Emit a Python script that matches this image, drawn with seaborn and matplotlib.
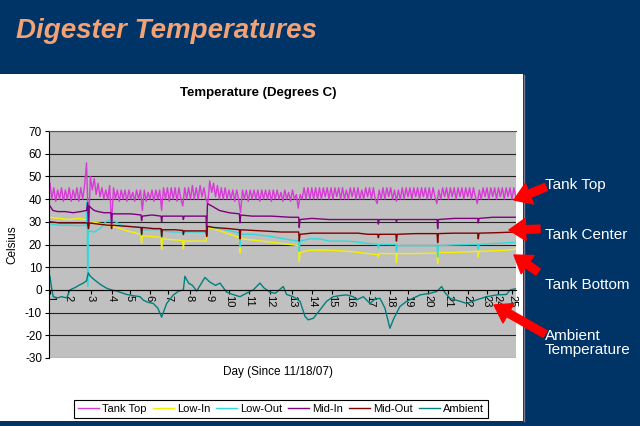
import numpy as np
import pandas as pd
import matplotlib
matplotlib.use("Agg")
import matplotlib.pyplot as plt
import seaborn as sns
from matplotlib.patches import Rectangle, FancyArrowPatch, ArrowStyle
from matplotlib.lines import Line2D

# ---------------- data ----------------
SERIES = ["Tank Top", "Low-In", "Low-Out", "Mid-In", "Mid-Out", "Ambient"]
COLORS = ["#D83AD8", "#F2F200", "#30DADA", "#800080", "#800000", "#008080"]

DAY_LABELS = ["1", "2", "3", "4", "5", "6", "7", "8", "9", "10", "11", "12", "13",
              "14", "15", "16", "17", "18", "19", "20", "21", "22", "23", "24", "25"]
DAY_TICKS = [1.0, 1.94, 3.13, 4.22, 5.16, 6.19, 7.13, 8.27, 9.31, 10.3, 11.34, 12.43, 13.57,
             14.61, 15.65, 16.58, 17.62, 18.66, 19.6, 20.64, 21.68, 22.71, 23.7, 24.27, 25.0]

# Tank Top sampled every 0.1 day starting at day 1.0
TANK_TOP_START = 1.0
TANK_TOP_STEP = 0.1
TANK_TOP = [
    47, 40, 45, 39, 44, 40, 45, 39, 44, 40,
    45, 39, 44, 40, 45, 39, 45, 40, 46, 56,
    27, 50, 44, 49, 42, 47, 41, 45, 40, 44,
    40, 46, 29, 45, 40, 44, 39, 44, 40, 44,
    39, 44, 40, 43, 39, 44, 40, 44, 35, 44,
    39, 43, 40, 44, 39, 44, 40, 44, 35, 45,
    40, 45, 39, 45, 40, 45, 39, 45, 40, 37,
    45, 40, 45, 40, 46, 40, 45, 40, 46, 41,
    45, 40, 38, 48, 43, 47, 41, 46, 40, 45,
    40, 45, 40, 44, 40, 44, 39, 44, 40, 34,
    44, 40, 44, 39, 44, 40, 44, 40, 44, 39,
    44, 40, 44, 40, 44, 39, 44, 40, 44, 40,
    43, 39, 44, 40, 43, 39, 44, 40, 42, 36,
    42, 40, 45, 40, 45, 40, 45, 40, 45, 40,
    45, 40, 45, 41, 45, 40, 45, 40, 45, 41,
    45, 40, 45, 40, 44, 40, 45, 41, 45, 40,
    45, 40, 44, 40, 45, 41, 45, 40, 45, 40,
    38, 44, 40, 45, 40, 45, 41, 45, 40, 44,
    39, 44, 40, 45, 40, 45, 41, 45, 40, 45,
    41, 45, 40, 45, 41, 45, 40, 45, 40, 45,
    41, 38, 44, 40, 45, 41, 45, 40, 45, 41,
    45, 40, 45, 41, 45, 40, 45, 41, 45, 40,
    45, 41, 38, 44, 40, 45, 41, 45, 40, 45,
    41, 45, 40, 45, 41, 45, 40, 45, 41, 45,
    40, 45, 41,
]

LOW_IN = [
    (1.0, 32), (1.5, 31.5), (2.0, 31), (2.5, 31.5), (2.9, 31), (2.96, 30.5), (3.0, 29),
    (3.1, 30), (3.5, 29.5), (4.0, 28.5), (4.5, 27.5), (5.0, 26), (5.5, 25), (5.73, 24.5),
    (5.76, 20.5), (5.8, 23.8), (6.3, 23.5), (6.77, 23.2), (6.8, 18), (6.84, 22.5), (7.5, 22),
    (7.9, 21.8), (7.93, 18), (7.97, 21.5), (8.5, 21.5), (9.11, 21.5), (9.14, 27.5), (9.5, 27),
    (10.0, 25.5), (10.84, 23), (10.87, 16.5), (10.91, 22.5), (11.5, 22), (12.5, 21), (13.0, 20.5),
    (13.92, 19.5), (13.95, 12.5), (13.99, 16.5), (14.5, 17.5), (15.5, 17.5), (16.5, 17), (17.5, 16),
    (18.03, 15.5), (18.06, 14.5), (18.1, 16), (18.97, 16), (19.0, 12), (19.04, 16), (20.0, 16),
    (21.11, 16.2), (21.14, 11.5), (21.18, 16.5), (22.0, 16.5), (23.22, 17), (23.25, 14.5),
    (23.29, 17), (24.0, 17.2), (24.7, 17.5), (25.19, 18),
]

LOW_OUT = [
    (1.0, 29), (1.5, 28.5), (2.0, 28.5), (2.5, 28.3), (2.9, 28.5), (2.93, 39), (2.96, 1.5),
    (2.99, 26), (3.3, 25.5), (3.6, 27), (3.9, 30), (4.2, 31), (4.4, 30), (4.7, 28.5), (5.2, 28),
    (5.73, 27.5), (5.76, 24), (5.8, 26.5), (6.3, 26.5), (6.77, 26.5), (6.8, 23), (6.84, 26),
    (7.4, 25.5), (7.9, 25.5), (7.93, 24), (7.97, 25.5), (8.5, 25.5), (9.11, 25.5), (9.14, 24.5),
    (9.2, 28), (9.8, 27), (10.4, 26), (10.84, 25), (10.87, 19), (10.91, 24.5), (11.5, 24.5),
    (12.5, 23.5), (13.5, 22), (13.92, 21.5), (13.95, 17), (13.99, 21.5), (14.5, 22.5), (15.0, 22.5),
    (15.5, 21.5), (16.5, 21.5), (17.5, 20.5), (18.03, 20), (18.06, 18.5), (18.1, 20), (18.97, 20),
    (19.0, 17), (19.04, 19.5), (20.0, 19.5), (21.11, 19.5), (21.14, 14.5), (21.18, 19.5),
    (22.0, 19.8), (23.22, 20), (23.25, 18), (23.29, 20), (24.2, 20.5), (25.19, 21),
]

MID_IN = [
    (1.0, 37), (1.15, 35), (1.4, 34.5), (1.8, 34.5), (2.2, 34), (2.6, 34.5), (2.9, 35),
    (2.96, 38.5), (3.0, 27), (3.04, 37), (3.15, 36), (3.3, 35), (3.5, 34.5), (3.8, 34),
    (4.17, 34), (4.2, 29), (4.23, 33.5), (4.6, 33.5), (5.2, 33.5), (5.73, 33), (5.76, 30.5),
    (5.8, 32.5), (6.3, 33), (6.77, 32.5), (6.8, 30), (6.84, 32.5), (7.4, 32.5), (7.9, 32.5),
    (7.93, 31), (7.97, 32.5), (8.5, 32.5), (9.11, 32.5), (9.14, 24), (9.18, 38), (9.4, 37),
    (9.8, 35), (10.3, 34), (10.84, 33.5), (10.87, 29.5), (10.91, 33), (11.5, 32.5), (12.5, 32.5),
    (13.5, 32), (13.92, 32), (13.95, 27.5), (13.99, 31), (14.6, 31.5), (15.5, 31), (16.5, 31),
    (17.5, 31), (18.03, 31), (18.06, 29), (18.1, 31), (18.97, 31), (19.0, 30), (19.04, 31),
    (20.0, 31), (21.11, 31), (21.14, 27), (21.18, 31), (22.0, 31.5), (23.22, 31.5), (23.25, 29.5),
    (23.29, 31.5), (24.0, 32), (25.19, 32),
]

MID_OUT = [
    (1.0, 30), (1.5, 29.5), (2.0, 29.5), (2.5, 29.5), (2.96, 29.5), (3.0, 27), (3.04, 29.5),
    (3.5, 29), (4.0, 28.5), (4.17, 28.5), (4.2, 27), (4.23, 28.5), (5.0, 28), (5.73, 27.5),
    (5.76, 24.5), (5.8, 27.5), (6.4, 27), (6.77, 27), (6.8, 23.5), (6.84, 26.5), (7.5, 26.5),
    (7.9, 26.2), (7.93, 24.5), (7.97, 26), (8.5, 26), (9.11, 26), (9.14, 23.5), (9.18, 28),
    (9.5, 27.5), (10.3, 27), (10.84, 26.5), (10.87, 22.5), (10.91, 26.5), (12.0, 26), (13.0, 25.5),
    (13.92, 25.5), (13.95, 21.5), (13.99, 24.5), (14.6, 25), (16.0, 25), (17.0, 25), (17.5, 24.5),
    (18.03, 24.5), (18.06, 23), (18.1, 24.5), (18.97, 24.5), (19.0, 21.5), (19.04, 24.5),
    (20.0, 24.8), (21.11, 24.8), (21.14, 20.8), (21.18, 24.8), (22.0, 25), (23.22, 25),
    (23.25, 22.5), (23.29, 25), (24.2, 25.2), (25.19, 25.5),
]

AMBIENT = [
    (1.0, 6), (1.1, 0), (1.17, -3), (1.4, -3.5), (1.6, -3), (1.87, -3.5), (2.04, 0), (2.3, 1),
    (2.5, 2), (2.73, 3), (2.9, 4), (2.99, 7.5), (3.1, 6), (3.3, 4.5), (3.6, 2.5), (3.95, 0.7),
    (4.2, 0), (4.46, -0.5), (4.98, -2), (5.3, -2.5), (5.68, -3), (5.85, -4.5), (6.1, -5.5),
    (6.37, -6), (6.6, -8), (6.8, -12), (7.06, -6), (7.41, -2.2), (7.7, -0.5), (7.93, 0),
    (8.01, 6), (8.2, 3), (8.4, 2), (8.62, -0.5), (8.8, 2), (9.05, 5.5), (9.3, 3.5), (9.6, 2),
    (9.83, 3), (10.18, -1), (10.5, -2), (10.87, -3), (11.2, -1.5), (11.56, 0), (11.91, 3),
    (12.1, 1), (12.43, -1), (12.7, -1.5), (13.12, 1.5), (13.29, -2), (13.64, -3), (13.99, -5),
    (14.25, -11.7), (14.42, -13.2), (14.68, -12.5), (15.03, -8.8), (15.37, -5), (15.72, -3),
    (16.06, -2.5), (16.4, -2.2), (16.76, -3), (16.93, -4.4), (17.28, -3), (17.62, -5.9),
    (17.9, -4), (18.14, -3.7), (18.4, -8), (18.66, -16.9), (18.84, -13), (19.18, -7.3),
    (19.53, -5), (19.87, -3.7), (20.22, -2.2), (20.74, -1.5), (21.09, -0.7), (21.35, 1.5),
    (21.5, -1), (21.78, -3.7), (22.3, -5), (22.65, -6), (23.16, -4.4), (23.68, -3), (24.2, -2.2),
    (24.72, -2), (24.9, 0), (25.19, 0.5),
]

# ---------------- build long table ----------------
frames = []
tt_days = TANK_TOP_START + TANK_TOP_STEP * np.arange(len(TANK_TOP))
frames.append(pd.DataFrame({"day": tt_days, "temp": TANK_TOP, "series": "Tank Top"}))
for name, pts in [("Low-In", LOW_IN), ("Low-Out", LOW_OUT), ("Mid-In", MID_IN),
                  ("Mid-Out", MID_OUT), ("Ambient", AMBIENT)]:
    d, v = zip(*pts)
    frames.append(pd.DataFrame({"day": d, "temp": v, "series": name}))
df = pd.concat(frames, ignore_index=True)

# ---------------- figure ----------------
plt.rcParams["font.family"] = ["Liberation Sans", "DejaVu Sans"]
plt.rcParams["axes.unicode_minus"] = False
NAVY = "#003366"
W, H = 640, 426
fig = plt.figure(figsize=(6.4, 4.26), dpi=100, facecolor=NAVY)

def fp(x, y):
    return (x / W, 1 - y / H)

# white slide panel
fig.add_artist(Rectangle(fp(0, 421), 523 / W, (421 - 74) / H, transform=fig.transFigure,
                         facecolor="white", edgecolor="none", zorder=-2))
fig.add_artist(Line2D([524 / W, 524 / W], [1 - 421 / H, 1 - 75 / H], transform=fig.transFigure,
                      color="#7a7a90", lw=1, zorder=-1))

# slide title
fig.text(16 / W, 1 - 38 / H, "Digester Temperatures", color="#F2A274", fontsize=20,
         fontweight="bold", fontstyle="italic", va="baseline", ha="left")

ax = fig.add_axes([49 / W, 1 - 358 / H, (516 - 49) / W, (358 - 131) / H])
ax.set_facecolor("#C0C0C0")

sns.lineplot(data=df, x="day", y="temp", hue="series", hue_order=SERIES,
             palette=dict(zip(SERIES, COLORS)), estimator=None, sort=True,
             linewidth=1.0, legend=False, ax=ax)

# spine positions first (moving a spine resets tick styling)
ax.spines["bottom"].set_position(("data", 0))
ax.spines["bottom"].set_color("black")
ax.spines["bottom"].set_linewidth(0.8)
ax.spines["left"].set_color("black")
ax.spines["left"].set_linewidth(0.8)
ax.spines["top"].set_color("#555555")
ax.spines["top"].set_linewidth(0.8)
ax.spines["right"].set_visible(False)

ax.set_xlim(0.95, 25.21)
ax.set_ylim(-30, 70)
ax.set_yticks(range(-30, 71, 10))
ax.yaxis.grid(True, color="#222222", lw=0.8)
ax.xaxis.grid(False)
ax.set_axisbelow(True)
ax.set_xticks(DAY_TICKS)
ax.set_xticklabels(DAY_LABELS)
ax.tick_params(axis="x", length=3, width=0.8, pad=1, color="black",
               labelrotation=-90, labelsize=8)
ax.tick_params(axis="y", length=3, width=0.8, labelsize=8.5, pad=2)
for lab in ax.get_xticklabels():
    lab.set_va("top")
    lab.set_ha("center")
ax.set_xlabel("")
ax.set_ylabel("")

# chart texts
fig.text(258 / W, 1 - 93 / H, "Temperature (Degrees C)", fontsize=9.5, fontweight="bold",
         ha="center", va="center")
fig.text(12 / W, 1 - 245 / H, "Celsius", fontsize=8.5, rotation=90, ha="center", va="center")
fig.text(278 / W, 1 - 372 / H, "Day (Since 11/18/07)", fontsize=8.5, ha="center", va="center")

handles = [Line2D([0], [0], color=c, lw=1.0) for c in COLORS]
leg = fig.legend(handles, SERIES, loc="center", bbox_to_anchor=fp(281, 409), ncol=6,
                 fontsize=8, frameon=True, fancybox=False, edgecolor="black", framealpha=1,
                 handlelength=1.9, handletextpad=0.3, columnspacing=0.5, borderpad=0.35)
leg.get_frame().set_linewidth(0.8)

# right-hand annotations
label_kw = dict(color="white", fontsize=11, ha="left", va="center")
fig.text(545 / W, 1 - 185 / H, "Tank Top", **label_kw)
fig.text(545 / W, 1 - 235 / H, "Tank Center", **label_kw)
fig.text(545 / W, 1 - 285 / H, "Tank Bottom", **label_kw)
fig.text(545 / W, 1 - 343 / H, "Ambient\nTemperature", linespacing=1.0, **label_kw)

arrow_style = ArrowStyle.Simple(head_length=1.2, head_width=1.6, tail_width=0.55)
for a, b in [((546, 187), (514, 200)), ((540, 229), (509, 230)),
             ((538, 272), (514, 255)), ((545, 334), (494, 305))]:
    fig.add_artist(FancyArrowPatch(fp(*a), fp(*b), transform=fig.transFigure,
                                   arrowstyle=arrow_style, mutation_scale=10,
                                   color="#FF0000", shrinkA=0, shrinkB=0, zorder=5))

fig.savefig("out.png", dpi=100, facecolor=NAVY)
